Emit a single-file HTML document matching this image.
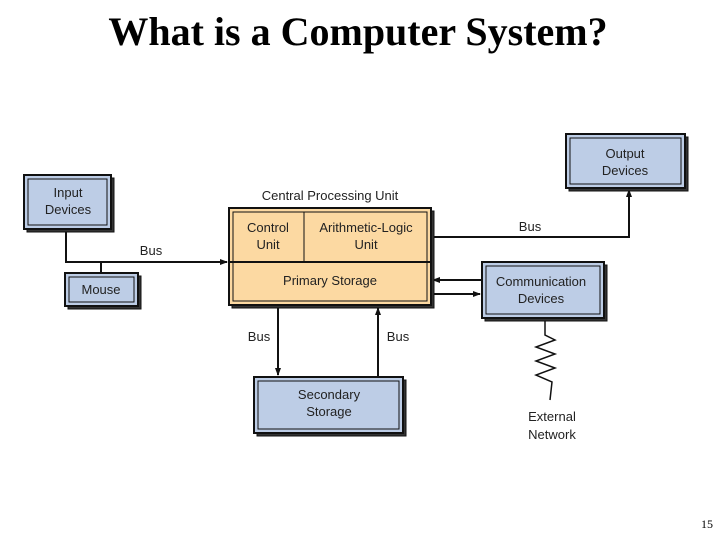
<!DOCTYPE html>
<html><head><style>
body{margin:0;background:#fff;width:720px;height:540px;overflow:hidden}
svg{display:block}
text{font-family:"Liberation Sans",sans-serif;font-size:13px;fill:#222}
</style></head><body>
<svg width="720" height="540" viewBox="0 0 720 540">
<defs><marker id="a" markerWidth="8" markerHeight="8" refX="7" refY="4" orient="auto" markerUnits="userSpaceOnUse"><path d="M0,1 L8,4 L0,7 Z" fill="#111"/></marker></defs>
<text x="358" y="45" text-anchor="middle" style="font-family:'Liberation Serif',serif;font-size:40px;font-weight:bold;fill:#000">What is a Computer System?</text>
<text x="713" y="528" text-anchor="end" style="font-family:'Liberation Serif',serif;font-size:12px;fill:#000">15</text>
<g stroke="#111" stroke-width="2" fill="none">
<polyline points="66,229 66,262 227,262" marker-end="url(#a)"/>
<line x1="101" y1="262" x2="101" y2="273"/>
<polyline points="431,237 629,237 629,190" marker-end="url(#a)"/>
<line x1="482" y1="280" x2="433" y2="280" marker-end="url(#a)"/>
<line x1="431" y1="294" x2="480" y2="294" marker-end="url(#a)"/>
<line x1="278" y1="306" x2="278" y2="375" marker-end="url(#a)"/>
<line x1="378" y1="376" x2="378" y2="308" marker-end="url(#a)"/>
<polyline points="545,318 545,335 555,340 536,347 555,354 536,361 555,368 536,375 552,382 550,400" stroke-width="1.5"/>
</g>
<g stroke="#111">
<rect x="27" y="178" width="87" height="54" fill="#333"/><rect x="24" y="175" width="87" height="54" fill="#bdcde6" stroke-width="2"/><rect x="28" y="179" width="79" height="46" fill="none" stroke-width="1"/>
<rect x="68" y="276" width="73" height="33" fill="#333"/><rect x="65" y="273" width="73" height="33" fill="#bdcde6" stroke-width="2"/><rect x="69" y="277" width="65" height="25" fill="none" stroke-width="1"/>
<rect x="569" y="137" width="119" height="54" fill="#333"/><rect x="566" y="134" width="119" height="54" fill="#bdcde6" stroke-width="2"/><rect x="570" y="138" width="111" height="46" fill="none" stroke-width="1"/>
<rect x="485" y="265" width="122" height="56" fill="#333"/><rect x="482" y="262" width="122" height="56" fill="#bdcde6" stroke-width="2"/><rect x="486" y="266" width="114" height="48" fill="none" stroke-width="1"/>
<rect x="257" y="380" width="149" height="56" fill="#333"/><rect x="254" y="377" width="149" height="56" fill="#bdcde6" stroke-width="2"/><rect x="258" y="381" width="141" height="48" fill="none" stroke-width="1"/>
<rect x="232" y="211" width="202" height="97" fill="#333"/><rect x="229" y="208" width="202" height="97" fill="#fcd9a2" stroke-width="2"/><rect x="233" y="212" width="194" height="89" fill="none" stroke-width="1"/>
<line x1="229" y1="262" x2="431" y2="262" stroke-width="2"/><line x1="304" y1="212" x2="304" y2="262" stroke-width="1"/>
</g>
<g text-anchor="middle">
<text x="68" y="197">Input</text><text x="68" y="214">Devices</text>
<text x="101" y="294">Mouse</text>
<text x="625" y="158">Output</text><text x="625" y="175">Devices</text>
<text x="541" y="286">Communication</text><text x="541" y="303">Devices</text>
<text x="329" y="399">Secondary</text><text x="329" y="416">Storage</text>
<text x="330" y="200">Central Processing Unit</text>
<text x="268" y="232">Control</text><text x="268" y="249">Unit</text>
<text x="366" y="232">Arithmetic-Logic</text><text x="366" y="249">Unit</text>
<text x="330" y="285">Primary Storage</text>
<text x="151" y="255">Bus</text><text x="530" y="231">Bus</text>
<text x="259" y="341">Bus</text><text x="398" y="341">Bus</text>
<text x="552" y="421">External</text><text x="552" y="439">Network</text>
</g>
</svg>
</body></html>
